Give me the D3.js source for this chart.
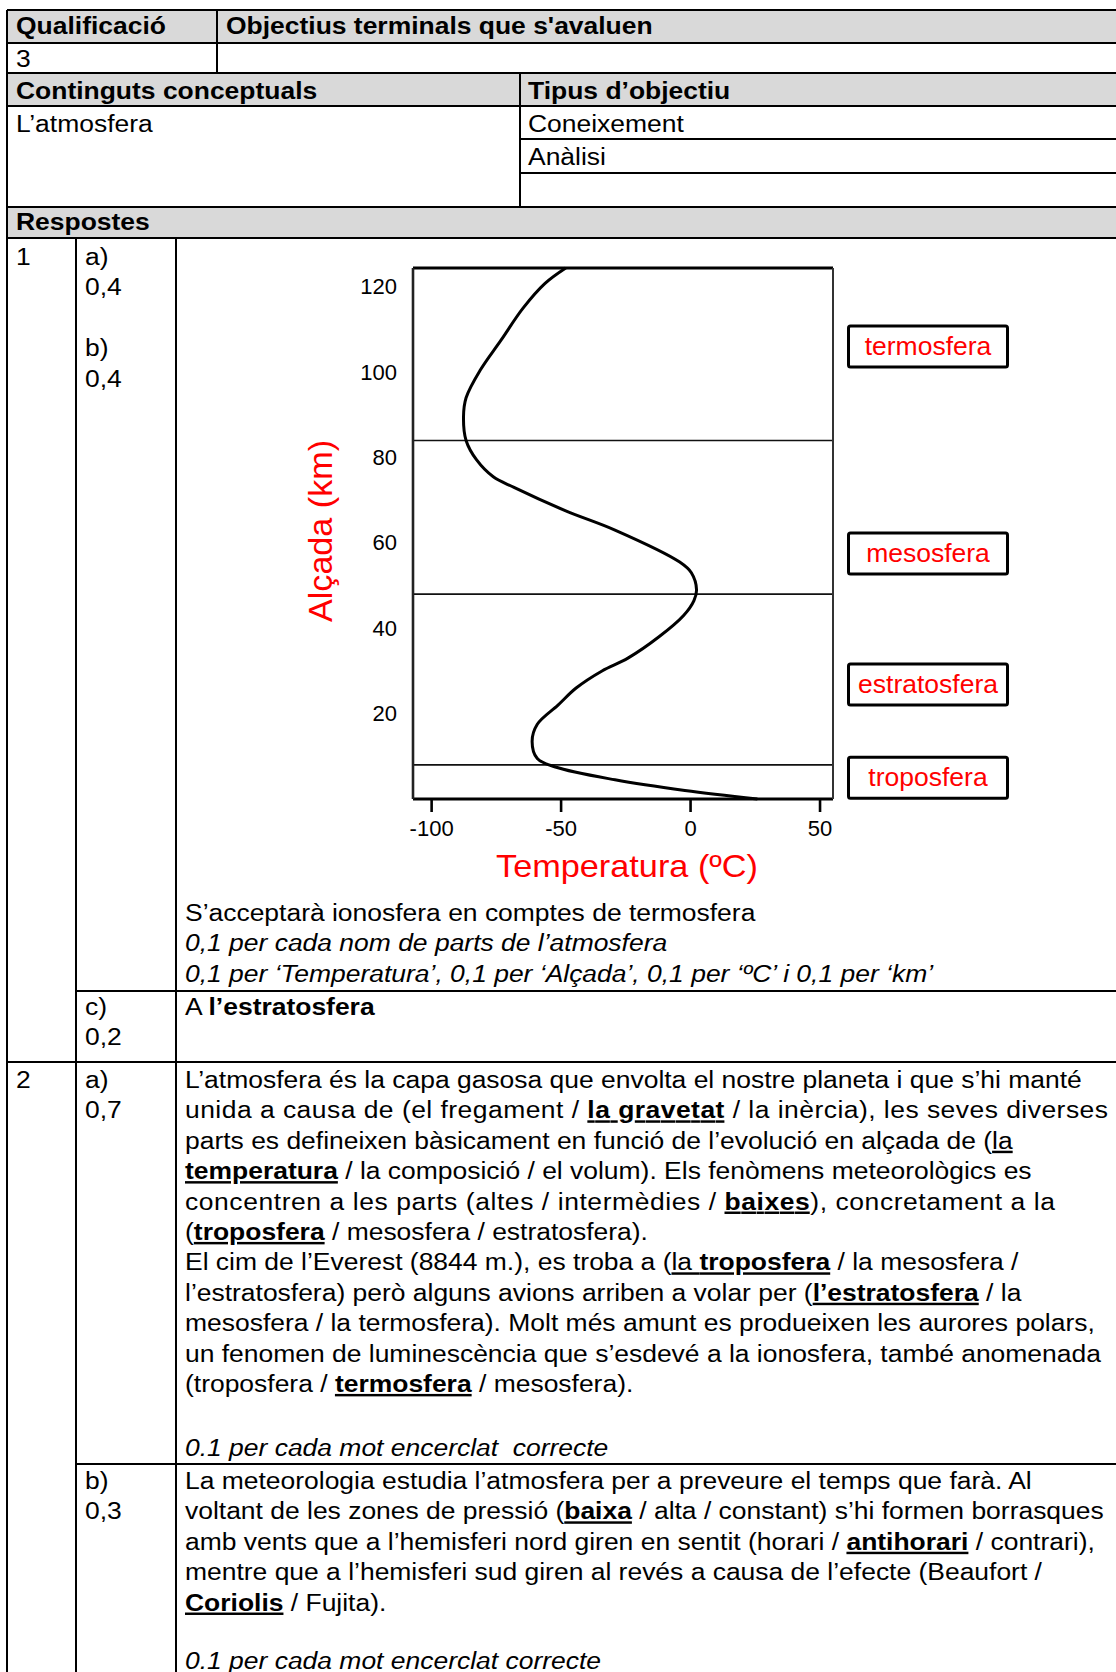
<!DOCTYPE html>
<html>
<head>
<meta charset="utf-8">
<script src="https://cdn.jsdelivr.net/npm/d3@7"></script>
<style>
body { margin: 0; background: #fff; }
svg { display: block; font-family: Arial, "Liberation Sans", sans-serif; }
</style>
</head>
<body>
<svg id="page" width="1116" height="1672"></svg>
<script>
// temperature profile
const altitude    = [0, 2, 4.5, 7.5, 9.5, 13.5, 17.5, 22, 26, 30, 33, 38, 43, 46.5, 49, 53, 55.5, 63, 67.5, 73, 75.5, 79.5, 84, 89.5, 94, 100.5, 107.5, 115, 120.8, 124.4]
const temperature = [26, -2, -29, -52, -59, -61, -59, -51, -44, -34, -24, -12, -2.5, 1.5, 2.5, 0.5, -4, -29, -48, -68, -76, -82.5, -86.5, -87.5, -86.5, -81, -73, -64.5, -56, -48]
// layer boundaries (km) and the layer names with the height they sit at
const layerTops = [8, 48, 84]
const layerNames = ['troposfera', 'estratosfera', 'mesosfera', 'termosfera']
const layerAlt = [5, 26.8, 57.5, 106]
const xTicks = [-100, -50, 0, 50]
const yTicks = [20, 40, 60, 80, 100, 120]

const svg = d3.select('#page')
const W = 1116, H = 1672
const FS = 24.5, SX = 1.08   // page text is a bit wide in the scan

// ---------- table ----------
const gray = '#d9d9d9'
const fills = [[10, 43], [73, 106], [207, 238]]
fills.forEach(f => svg.append('rect').attr('x', 7).attr('y', f[0]).attr('width', W - 7).attr('height', f[1] - f[0]).attr('fill', gray))

const hLines = [[7, 10], [7, 43], [7, 73], [7, 106], [520, 139], [520, 173], [7, 207], [7, 238], [76, 991], [7, 1062], [76, 1464]]
const vLines = [[7, 10, H], [217, 10, 73], [520, 73, 207], [76, 238, H], [176, 238, H]]
hLines.forEach(l => svg.append('line').attr('x1', l[0]).attr('x2', W).attr('y1', l[1]).attr('y2', l[1]).attr('stroke', '#000').attr('stroke-width', 2))
vLines.forEach(l => svg.append('line').attr('x1', l[0]).attr('x2', l[0]).attr('y1', l[1]).attr('y2', l[2]).attr('stroke', '#000').attr('stroke-width', 2))

// one line of text made of plain / bold / underlined pieces
function line(x, y, segs, italic, endX) {
    const t = svg.append('text')
        .attr('transform', `translate(${x},${y}) scale(${SX},1)`)
        .attr('font-size', FS)
        .style('white-space', 'pre')
    if (italic) t.attr('font-style', 'italic')
    if (endX) t.attr('textLength', (endX - x) / SX).attr('lengthAdjust', 'spacing')
    segs.forEach(s => {
        const str = typeof s === 'string' ? s : s[0]
        const st = typeof s === 'string' ? '' : s[1]
        const sp = t.append('tspan').text(str)
        if (st.includes('b')) sp.attr('font-weight', 'bold')
        if (st.includes('u')) sp.style('text-decoration', 'underline')
    })
}
const P = 30.4 // line pitch

line(16, 34, [['Qualificació', 'b']])
line(226, 34, [["Objectius terminals que s'avaluen", 'b']])
line(16, 67, ['3'])
line(16, 99, [['Continguts conceptuals', 'b']])
line(528, 99, [['Tipus d’objectiu', 'b']])
line(16, 132, ['L’atmosfera'])
line(528, 132, ['Coneixement'])
line(528, 165, ['Anàlisi'])
line(16, 230, [['Respostes', 'b']])

// question 1
line(16, 265, ['1'])
;['a)', '0,4', '', 'b)', '0,4'].forEach((s, i) => line(85, 265 + i * P, [s]))
line(185, 921, ['S’acceptarà ionosfera en comptes de termosfera'])
line(185, 921 + P, ['0,1 per cada nom de parts de l’atmosfera'], true)
line(185, 921 + 2 * P, ['0,1 per ‘Temperatura’, 0,1 per ‘Alçada’, 0,1 per ‘ºC’ i 0,1 per ‘km’'], true)
line(85, 1015, ['c)'])
line(85, 1015 + P, ['0,2'])
line(185, 1015, ['A ', ['l’estratosfera', 'b']])

// question 2
const r2 = 1088
line(16, r2, ['2'])
line(85, r2, ['a)'])
line(85, r2 + P, ['0,7'])
const textA = [
    ['L’atmosfera és la capa gasosa que envolta el nostre planeta i que s’hi manté'],
    ['unida a causa de (el fregament / ', ['la gravetat', 'bu'], ' / la inèrcia), les seves diverses'],
    ['parts es defineixen bàsicament en funció de l’evolució en alçada de (', ['la', 'u']],
    [['temperatura', 'bu'], ' / la composició / el volum). Els fenòmens meteorològics es'],
    ['concentren a les parts (altes / intermèdies / ', ['baixes', 'bu'], '), concretament a la'],
    ['(', ['troposfera', 'bu'], ' / mesosfera / estratosfera).'],
    ['El cim de l’Everest (8844 m.), es troba a (', ['la ', 'u'], ['troposfera', 'bu'], ' / la mesosfera /'],
    ['l’estratosfera) però alguns avions arriben a volar per (', ['l’estratosfera', 'bu'], ' / la'],
    ['mesosfera / la termosfera). Molt més amunt es produeixen les aurores polars,'],
    ['un fenomen de luminescència que s’esdevé a la ionosfera, també anomenada'],
    ['(troposfera / ', ['termosfera', 'bu'], ' / mesosfera).']
]
const fitA = { 1: 1108, 4: 1055 }
textA.forEach((segs, i) => line(185, r2 + i * P, segs, false, fitA[i]))
line(185, 1456, ['0.1 per cada mot encerclat  correcte'], true)

const rb = 1489
line(85, rb, ['b)'])
line(85, rb + P, ['0,3'])
const textB = [
    ['La meteorologia estudia l’atmosfera per a preveure el temps que farà. Al'],
    ['voltant de les zones de pressió (', ['baixa', 'bu'], ' / alta / constant) s’hi formen borrasques'],
    ['amb vents que a l’hemisferi nord giren en sentit (horari / ', ['antihorari', 'bu'], ' / contrari),'],
    ['mentre que a l’hemisferi sud giren al revés a causa de l’efecte (Beaufort /'],
    [['Coriolis', 'bu'], ' / Fujita).']
]
textB.forEach((segs, i) => line(185, rb + i * P, segs))
line(185, 1669, ['0.1 per cada mot encerclat correcte'], true)

// ---------- chart ----------
const x = d3.scaleLinear().domain([-107, 55.2]).range([413, 833])
const y = d3.scaleLinear().domain([0, 124.4]).range([799, 268])
const chart = svg.append('g')
const fontFam = 'Arial, "Liberation Sans", sans-serif'

// layer boundaries
chart.selectAll('.layer').data(layerTops).join('line')
    .attr('class', 'layer')
    .attr('x1', x.range()[0]).attr('x2', x.range()[1])
    .attr('y1', d => y(d)).attr('y2', d => y(d))
    .attr('stroke', '#111').attr('stroke-width', 1.6)

// frame
const [x0, x1] = x.range(), [y0, y1] = y.range()
chart.append('line').attr('x1', x0).attr('x2', x1).attr('y1', y1).attr('y2', y1).attr('stroke', '#000').attr('stroke-width', 3.2)
chart.append('line').attr('x1', x0).attr('x2', x1).attr('y1', y0).attr('y2', y0).attr('stroke', '#000').attr('stroke-width', 3.2)
chart.append('line').attr('x1', x0).attr('x2', x0).attr('y1', y1).attr('y2', y0).attr('stroke', '#222').attr('stroke-width', 2.6)
chart.append('line').attr('x1', x1).attr('x2', x1).attr('y1', y1).attr('y2', y0).attr('stroke', '#333').attr('stroke-width', 2)

// axes
chart.append('g').attr('transform', `translate(0,${y0})`)
    .call(d3.axisBottom(x).tickValues(xTicks).tickSize(13).tickPadding(8).tickFormat(d => String(d)))
    .call(g => g.select('.domain').remove())
    .call(g => g.selectAll('.tick line').attr('stroke-width', 2.6))
    .attr('font-family', fontFam).attr('font-size', 22)
chart.append('g').attr('transform', `translate(${x0},0)`)
    .call(d3.axisLeft(y).tickValues(yTicks).tickSize(0).tickPadding(16))
    .call(g => g.select('.domain').remove())
    .attr('font-family', fontFam).attr('font-size', 22)

// profile curve
const pts = altitude.map((a, i) => [x(temperature[i]), y(a)])
chart.append('path')
    .attr('d', d3.line().curve(d3.curveCatmullRom.alpha(0.5))(pts))
    .attr('fill', 'none').attr('stroke', '#000').attr('stroke-width', 3)

// axis titles
chart.append('text').attr('x', 627).attr('y', 877).attr('text-anchor', 'middle')
    .attr('font-size', 32).attr('fill', '#f00')
    .attr('textLength', 262).attr('lengthAdjust', 'spacingAndGlyphs')
    .text('Temperatura (ºC)')
chart.append('text').attr('transform', 'translate(332,531) rotate(-90)').attr('text-anchor', 'middle')
    .attr('font-size', 33).attr('fill', '#f00')
    .attr('textLength', 182).attr('lengthAdjust', 'spacingAndGlyphs')
    .text('Alçada (km)')

// layer name boxes
const boxes = chart.selectAll('.box').data(layerNames).join('g')
    .attr('class', 'box')
    .attr('transform', (d, i) => `translate(928,${y(layerAlt[i])})`)
boxes.append('rect').attr('x', -79.5).attr('y', -20.5).attr('width', 159).attr('height', 41).attr('rx', 2)
    .attr('fill', '#fff').attr('stroke', '#000').attr('stroke-width', 3)
boxes.append('text').attr('text-anchor', 'middle').attr('y', 8.5)
    .attr('font-size', 26.5).attr('fill', '#f00')
    .text(d => d)
</script>
</body>
</html>
